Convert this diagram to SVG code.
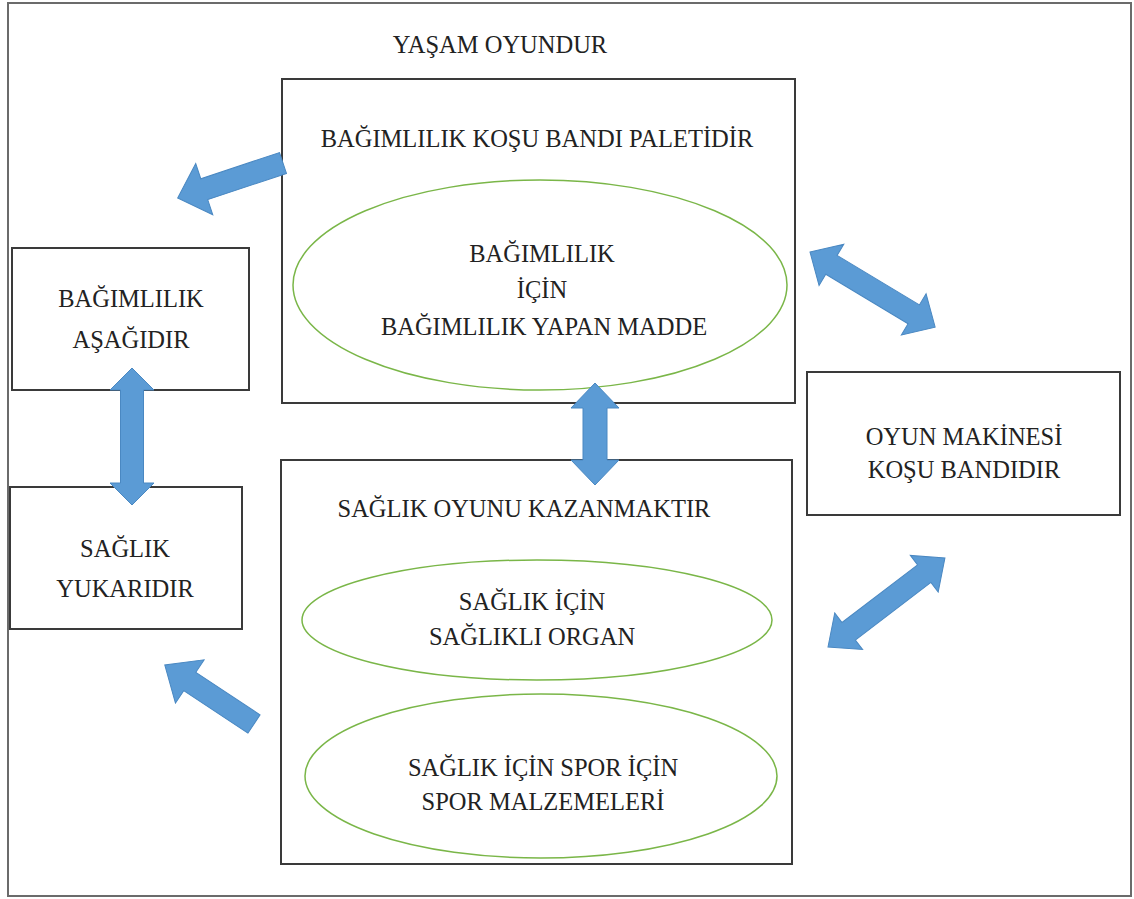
<svg xmlns="http://www.w3.org/2000/svg" width="1134" height="899" viewBox="0 0 1134 899">
<style>
.box{fill:#fff;stroke:#3a3a3a;stroke-width:2}
.ell{fill:none;stroke:#7ab648;stroke-width:1.5}
.t{font-family:"Liberation Serif","Times New Roman",serif;font-size:24.5px;fill:#222;text-anchor:middle}
.arr{fill:#5b9bd5;stroke:#4a88c2;stroke-width:1}
</style>
<rect width="1134" height="899" fill="#fff"/>
<rect x="8" y="3" width="1123" height="893" fill="none" stroke="#6b6b6b" stroke-width="2"/>
<text class="t" x="500" y="53">YAŞAM OYUNDUR</text>
<g id="top-box">
<rect class="box" x="282" y="79" width="513" height="324"/>
<text class="t" x="537" y="147">BAĞIMLILIK  KOŞU BANDI PALETİDİR</text>
</g>
<g id="ellipse-top">
<ellipse class="ell" cx="540" cy="285" rx="247" ry="105"/>
<text class="t" x="542" y="262">BAĞIMLILIK</text>
<text class="t" x="542" y="298">İÇİN</text>
<text class="t" x="544" y="335">BAĞIMLILIK YAPAN MADDE</text>
</g>
<g id="box-asagi">
<rect class="box" x="12" y="248" width="237" height="142"/>
<text class="t" x="131" y="307">BAĞIMLILIK</text>
<text class="t" x="131" y="348">AŞAĞIDIR</text>
</g>
<g id="box-yukari">
<rect class="box" x="10" y="487" width="232" height="142"/>
<text class="t" x="125" y="557">SAĞLIK</text>
<text class="t" x="125" y="597">YUKARIDIR</text>
</g>
<g id="box-oyun">
<rect class="box" x="807" y="372" width="313" height="143"/>
<text class="t" x="964" y="445">OYUN MAKİNESİ</text>
<text class="t" x="964" y="478">KOŞU BANDIDIR</text>
</g>
<g id="bottom-box">
<rect class="box" x="281" y="460" width="511" height="404"/>
<text class="t" x="524" y="517">SAĞLIK OYUNU KAZANMAKTIR</text>
</g>
<g id="ellipse-organ">
<ellipse class="ell" cx="537" cy="620" rx="235" ry="60"/>
<text class="t" x="532" y="610">SAĞLIK İÇİN</text>
<text class="t" x="532" y="645">SAĞLIKLI ORGAN</text>
</g>
<g id="ellipse-spor">
<ellipse class="ell" cx="541" cy="776" rx="236" ry="82"/>
<text class="t" x="543" y="776">SAĞLIK İÇİN SPOR İÇİN</text>
<text class="t" x="543" y="810">SPOR MALZEMELERİ</text>
</g>
<g id="connectors">
<path class="arr" transform="translate(283,163) rotate(161.6)" d="M0,-11 L83,-11 L83,-27 L111,0 L83,27 L83,11 L0,11 Z"/>
<path class="arr" transform="translate(810,252) rotate(31)" d="M0,0 L25,-24 L25,-11 L121,-11 L121,-24 L146,0 L121,24 L121,11 L25,11 L25,24 Z"/>
<path class="arr" transform="translate(132,368) rotate(90)" d="M0,0 L22,-22 L22,-11.5 L115,-11.5 L115,-22 L137,0 L115,22 L115,11.5 L22,11.5 L22,22 Z"/>
<path class="arr" transform="translate(595,383) rotate(90)" d="M0,0 L25,-24 L25,-12 L77,-12 L77,-24 L102,0 L77,24 L77,12 L25,12 L25,24 Z"/>
<path class="arr" transform="translate(828,647) rotate(-37.3)" d="M0,0 L26,-23 L26,-11 L121,-11 L121,-23 L147,0 L121,23 L121,11 L26,11 L26,23 Z"/>
<path class="arr" transform="translate(254,724) rotate(213.5)" d="M0,-11 L77,-11 L77,-26 L107,0 L77,26 L77,11 L0,11 Z"/>
</g>
</svg>
